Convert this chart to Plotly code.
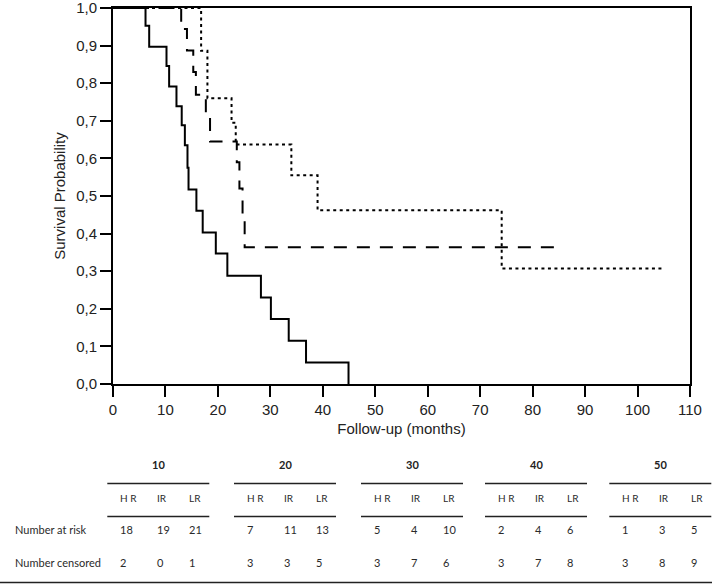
import plotly.graph_objects as go

# ---- survival curves ----
hr_t = [0, 6.2, 6.9, 10.2, 10.7, 12.1, 13.1, 13.7, 14.2, 14.4, 15.9, 17.1, 19.6, 21.8, 28.2, 30.1, 33.5, 36.8, 44.9]
hr_s = [1.0, 0.953, 0.897, 0.846, 0.791, 0.739, 0.688, 0.635, 0.575, 0.517, 0.461, 0.403, 0.347, 0.288, 0.230, 0.173, 0.115, 0.057, 0.0]

ir_t = [0, 13.0, 14.1, 15.3, 15.8, 17.7, 18.5, 23.6, 24.1, 24.7, 25.1, 84.5]
ir_s = [1.0, 0.944, 0.887, 0.83, 0.769, 0.708, 0.645, 0.59, 0.52, 0.45, 0.364, 0.364]

lr_t = [0, 16.8, 18.0, 22.6, 23.4, 34.0, 39.0, 74.1, 104.9]
lr_s = [1.0, 0.886, 0.76, 0.695, 0.637, 0.555, 0.462, 0.307, 0.307]

# ---- risk table ----
table_times = [10, 20, 30, 40, 50]
groups = ["HR", "IR", "LR"]
at_risk_hr = [18, 7, 5, 2, 1]
at_risk_ir = [19, 11, 4, 4, 3]
at_risk_lr = [21, 13, 10, 6, 5]
cens_hr = [2, 3, 3, 3, 3]
cens_ir = [0, 3, 7, 7, 8]
cens_lr = [1, 5, 6, 8, 9]
row_labels = ["Number at risk", "Number censored"]

W, H = 712, 585
ML, MR, MT, MB = 113, 22, 8, 201
PW, PH = W - ML - MR, H - MT - MB


def px(x):
    return (x - ML) / PW


def py(y):
    return (H - MB - y) / PH


fig = go.Figure()
fig.add_trace(go.Scatter(x=hr_t, y=hr_s, mode="lines", line=dict(color="black", width=2, shape="hv"),
                         name="HR", cliponaxis=False))
fig.add_trace(go.Scatter(x=ir_t, y=ir_s, mode="lines", line=dict(color="black", width=2, shape="hv", dash="13px,10px"),
                         name="IR", cliponaxis=False))
fig.add_trace(go.Scatter(x=lr_t, y=lr_s, mode="lines", line=dict(color="black", width=2, shape="hv", dash="3px,3.5px"),
                         name="LR", cliponaxis=False))

axis_font = dict(family="Liberation Sans, Arial, sans-serif", size=15, color="#222")

annotations = []
shapes = []
tfont = dict(family="Lato, Open Sans, sans-serif", size=11, color="#2a2a2a")
bfont = dict(family="Lato, Open Sans, sans-serif", size=11, color="#222", weight="bold")

group_starts = [107.3, 234.0, 361.0, 485.0, 609.3]
col_off = [11, 48, 80]
gw = 102
y_head, y_line1, y_sub, y_line2, y_risk, y_cens, y_bottom = 464.5, 483.5, 497.5, 516.5, 529.5, 562.5, 582.5

risk = [at_risk_hr, at_risk_ir, at_risk_lr]
cens = [cens_hr, cens_ir, cens_lr]

for gi, t in enumerate(table_times):
    g0 = group_starts[gi]
    annotations.append(dict(x=px(g0 + gw / 2), y=py(y_head), xref="paper", yref="paper", text=str(t),
                            showarrow=False, font=bfont, xanchor="center", yanchor="middle"))
    for yl in (y_line1, y_line2):
        shapes.append(dict(type="line", xref="paper", yref="paper", x0=px(g0), x1=px(g0 + gw),
                           y0=py(yl), y1=py(yl), line=dict(color="#222", width=1.5)))
    for ci, gname in enumerate(groups):
        cx = px(g0 + col_off[ci])
        annotations.append(dict(x=cx, y=py(y_sub), xref="paper", yref="paper", text=gname.replace("HR", "H R"),
                                showarrow=False, font=dict(tfont, size=10), xanchor="left", yanchor="middle"))
        annotations.append(dict(x=cx, y=py(y_risk), xref="paper", yref="paper", text=str(risk[ci][gi]),
                                showarrow=False, font=tfont, xanchor="left", yanchor="middle"))
        annotations.append(dict(x=cx, y=py(y_cens), xref="paper", yref="paper", text=str(cens[ci][gi]),
                                showarrow=False, font=tfont, xanchor="left", yanchor="middle"))

annotations.append(dict(x=px(12.5), y=py(y_risk), xref="paper", yref="paper", text=row_labels[0],
                        showarrow=False, font=tfont, xanchor="left", yanchor="middle"))
annotations.append(dict(x=px(12.5), y=py(y_cens), xref="paper", yref="paper", text=row_labels[1],
                        showarrow=False, font=tfont, xanchor="left", yanchor="middle"))
shapes.append(dict(type="line", xref="paper", yref="paper", x0=px(0), x1=px(W), y0=py(y_bottom), y1=py(y_bottom),
                   line=dict(color="#222", width=1.5)))

fig.update_layout(
    width=W, height=H,
    margin=dict(l=ML, r=MR, t=MT, b=MB, pad=0, autoexpand=False),
    paper_bgcolor="white", plot_bgcolor="white",
    showlegend=False,
    separators=", ",
    xaxis=dict(range=[0, 110], tickmode="linear", tick0=0, dtick=10, showgrid=False, zeroline=False,
               showline=True, linecolor="black", linewidth=2, mirror=True, automargin=False,
               ticks="outside", ticklen=11, tickwidth=2, tickcolor="black", ticklabeloverflow="allow",
               tickfont=axis_font,
               title=dict(text="Follow-up (months)", font=axis_font, standoff=6)),
    yaxis=dict(range=[0, 1], tickmode="linear", tick0=0, dtick=0.1, tickformat=".1f", showgrid=False,
               zeroline=False, showline=True, linecolor="black", linewidth=2, mirror=True, automargin=False,
               ticks="outside", ticklen=11, tickwidth=2, tickcolor="black", ticklabeloverflow="allow",
               tickfont=axis_font,
               title=dict(text="Survival Probability", font=axis_font, standoff=7)),
    annotations=annotations,
    shapes=shapes,
)

fig.write_html("out.html", config={"displayModeBar": False},
               post_script="document.body.style.margin='0';document.body.style.padding='0';"
                           "document.body.style.overflow='hidden';")
